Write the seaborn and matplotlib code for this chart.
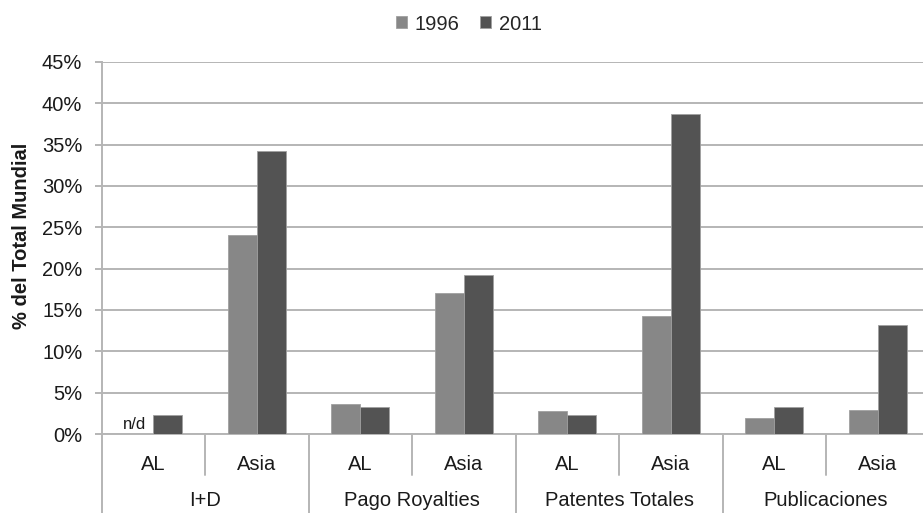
import matplotlib
matplotlib.use("Agg")
import matplotlib.pyplot as plt
from matplotlib.lines import Line2D
from matplotlib.patches import Patch
import seaborn as sns
import pandas as pd

# Indicator groups and regions
groups = ["I+D", "Pago Royalties", "Patentes Totales", "Publicaciones"]
regions = ["AL", "Asia"]
years = ["1996", "2011"]

# Share of world total (%), one value per group/region pair
share_1996 = [0.0, 24.1, 3.6, 17.1, 2.75, 14.3, 1.9, 2.9]   # I+D AL 1996 not available
share_2011 = [2.3, 34.2, 3.3, 19.2, 2.25, 38.7, 3.3, 13.2]
missing_1996 = [True, False, False, False, False, False, False, False]

yticks = [0, 5, 10, 15, 20, 25, 30, 35, 40, 45]

colors = {"1996": "#878787", "2011": "#535353"}

cats = [f"{g}|{r}" for g in groups for r in regions]
df = pd.DataFrame({
    "cat": cats * 2,
    "year": ["1996"] * len(cats) + ["2011"] * len(cats),
    "value": share_1996 + share_2011,
})

sns.set_theme(style="white")
plt.rcParams["font.family"] = ["Liberation Sans", "DejaVu Sans"]

FS = 14.5
TXT = "#1a1a1a"
W, H = 923, 513
fig = plt.figure(figsize=(W / 100, H / 100), dpi=100)

x0, x1 = 101.7, 929.5
y_zero, y_top = 434.0, 61.8
ax = fig.add_axes([x0 / W, (H - y_zero) / H, (x1 - x0) / W, (y_zero - y_top) / H])

sns.barplot(data=df, x="cat", y="value", hue="year", order=cats,
            hue_order=years, palette=colors, width=0.56, ax=ax,
            edgecolor="#a0a0a0", linewidth=0.6, legend=False, zorder=3)

grid_c = "#b5b5b5"
ax.set_ylim(0, 45)
ax.set_xlim(-0.5, len(cats) - 0.5)
ax.set_yticks(yticks)
ax.set_yticklabels([f"{v}%" for v in yticks])
ax.yaxis.grid(True, color=grid_c, linewidth=1.4, zorder=0)
ax.set_axisbelow(True)
ax.set_xticks([])
ax.set_xlabel("")
ax.set_ylabel("")
for side in ["top", "right"]:
    ax.spines[side].set_visible(False)
for side in ["left", "bottom"]:
    ax.spines[side].set_color(grid_c)
    ax.spines[side].set_linewidth(1.4)
ax.tick_params(axis="y", which="both", left=True, length=5, width=1.4,
               color=grid_c, pad=9, labelsize=FS, labelcolor=TXT)

# "n/d" marker for the missing 1996 value
off = 0.56 / 4
for i, miss in enumerate(missing_1996):
    if miss:
        ax.text(i - off - 0.04, 0.25, "n/d", ha="center", va="bottom",
                fontsize=12, color=TXT, zorder=4)

# Two-level category axis drawn below the plot
trans = ax.get_xaxis_transform()
ax_h_px = y_zero - y_top
for i, c in enumerate(cats):
    region = c.split("|")[1]
    ax.text(i, -(465 - y_zero) / ax_h_px, region, transform=trans,
            ha="center", va="center", fontsize=FS, color=TXT, clip_on=False)

for j, g in enumerate(groups):
    ax.text(2 * j + 0.5, -(501 - y_zero) / ax_h_px, g, transform=trans,
            ha="center", va="center", fontsize=FS, color=TXT, clip_on=False)

sub_end = -(475 - y_zero) / ax_h_px
for k in range(len(groups)):
    xs = 2 * k + 0.5
    ax.add_line(Line2D([xs, xs], [0, sub_end], transform=trans, color=grid_c,
                       linewidth=1.4, clip_on=False))
for k in range(len(groups) + 1):
    xs = 2 * k - 0.5
    ax.add_line(Line2D([xs, xs], [0, -0.3], transform=trans, color=grid_c,
                       linewidth=1.4, clip_on=False))

# Y-axis title
fig.text(22 / W, (H - 236) / H, "% del Total Mundial", rotation=90,
         ha="center", va="center", fontsize=FS, fontweight="bold", color=TXT)

# Legend on top
handles = [Patch(facecolor=colors[y], edgecolor="#a0a0a0", linewidth=0.6) for y in years]
fig.legend(handles, years, loc="center", bbox_to_anchor=(469 / W, (H - 24) / H),
           ncol=2, frameon=False, fontsize=FS, handlelength=0.55,
           handleheight=0.55, handletextpad=0.4, columnspacing=1.0)

fig.savefig("out.png", dpi=100)
